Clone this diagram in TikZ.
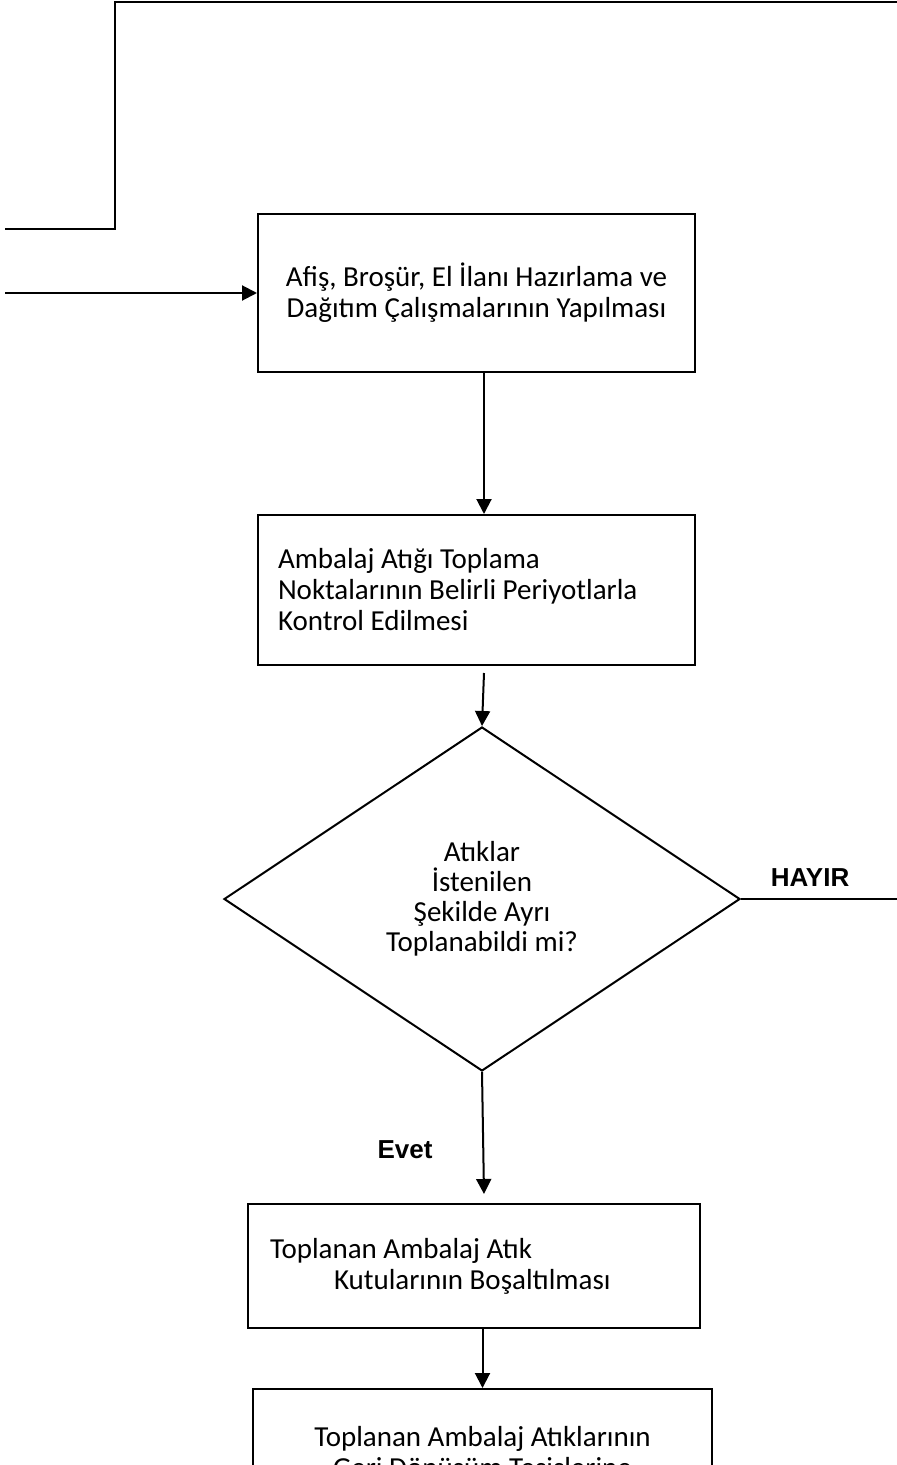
\documentclass[tikz,border=0pt]{standalone}
\usepackage{fontspec}
\setmainfont{Carlito}
\newfontfamily\labelfont{Liberation Sans}
\usetikzlibrary{shapes.geometric,arrows.meta}

\begin{document}
\begin{tikzpicture}[x=0.5pt, y=-0.5pt, line width=1pt,
    box/.style={draw, rectangle, inner sep=0pt, font=\fontsize{14.5}{15.5}\selectfont},
    decision/.style={draw, diamond, inner sep=0pt, minimum width=258pt, minimum height=172pt, align=center, font=\fontsize{14.5}{15}\selectfont},
    answer/.style={font=\labelfont\bfseries\fontsize{13}{15}\selectfont},
    arrow/.style={-{Triangle[length=7.5pt, width=7.5pt]}}]

    \useasboundingbox (0,0) rectangle (897,1465);
    \clip (0,0) rectangle (897,1465);

    % Boxes
    \node[box, minimum width=218.5pt, minimum height=79pt, align=center] (dagitim) at (476.5,293) {Afiş, Broşür, El İlanı Hazırlama ve\\Dağıtım Çalışmalarının Yapılması};
    \node[box, text width=198.5pt, inner xsep=10pt, minimum height=75pt, align=flush left] (kontrol) at (476.5,590) {Ambalaj Atığı Toplama\\Noktalarının Belirli Periyotlarla\\Kontrol Edilmesi};
    \node[decision] (karar) at (482,899) {Atıklar\\İstenilen\\Şekilde Ayrı\\Toplanabildi mi?};
    \node[box, text width=204pt, inner xsep=11pt, minimum height=62pt, align=flush left] (bosaltma) at (474,1266) {Toplanan Ambalaj Atık\\\hspace*{32pt}Kutularının Boşaltılması};
    \node[box, minimum width=229.5pt, minimum height=65pt, align=center] (tesis) at (482.5,1454) {Toplanan Ambalaj Atıklarının\\Geri Dönüşüm Tesislerine};

    % Answers
    \node[answer] (hayir) at (810,878) {HAYIR};
    \node[answer] (evet) at (405,1150) {Evet};

    % Free ends
    \coordinate (solust) at (5,229);
    \coordinate (kose1) at (115,229);
    \coordinate (kose2) at (115,2);
    \coordinate (sagust) at (897,2);
    \coordinate (solgiris) at (5,293);
    \coordinate (sag) at (897,899);
    \coordinate (ok1) at (484,673);
    \coordinate (ok2) at (484,1194);

    % Edges
    \draw (solust) -- (kose1) -- (kose2) -- (sagust);
    \draw[arrow] (solgiris) -- (dagitim);
    \draw[arrow] (dagitim.south -| ok1) -- (kontrol.north -| ok1);
    \draw[arrow] (ok1) -- (karar.north);
    \draw (karar.east) -- (sag);
    \draw[arrow] (karar.south) -- (ok2);
    \draw[arrow] (bosaltma.south -| tesis) -- (tesis.north);

\end{tikzpicture}
\end{document}
